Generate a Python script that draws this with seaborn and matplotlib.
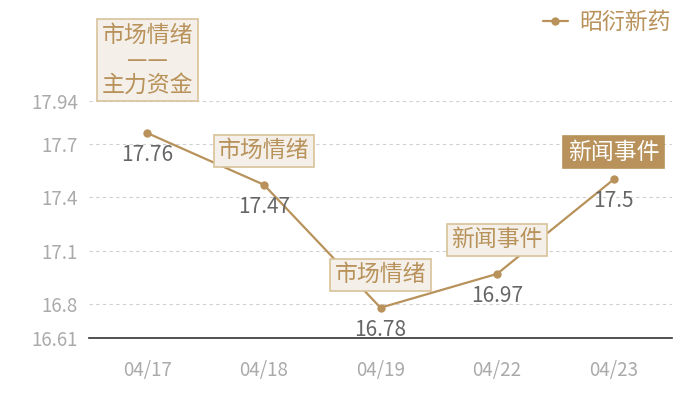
import pandas as pd
import matplotlib
matplotlib.use("Agg")
import matplotlib.pyplot as plt
import seaborn as sns

# data
dates = ["04/17", "04/18", "04/19", "04/22", "04/23"]
prices = [17.76, 17.47, 16.78, 16.97, 17.5]
events = ["市场情绪\n——\n主力资金", "市场情绪", "市场情绪", "新闻事件", "新闻事件"]
series_name = "昭衍新药"
yticks = [16.61, 16.8, 17.1, 17.4, 17.7, 17.94]

gold = "#b8925a"
box_fill = "#f4f0e9"
box_edge = "#d8c299"

sns.set_theme(style="white")
plt.rcParams["font.family"] = ["Noto Sans CJK SC", "DejaVu Sans"]

df = pd.DataFrame({"date": dates, "price": prices, "name": series_name})

fig = plt.figure(figsize=(7, 4), dpi=100)
ax = fig.add_axes([89 / 700, 1 - 338 / 400, (672 - 89) / 700, (338 - 101) / 400])

sns.lineplot(data=df, x="date", y="price", hue="name", palette=[gold],
             marker="o", markersize=6, markeredgewidth=0, linewidth=1.6,
             ax=ax, zorder=3)

ax.set_xlim(-0.5, len(dates) - 0.5)
ax.set_ylim(yticks[0], yticks[-1])
ax.set_yticks(yticks)
ax.set_yticklabels([str(v) for v in yticks])
for v in yticks[1:]:
    ax.axhline(v, color="#d0d0d0", linestyle=(0, (3, 3)), linewidth=0.8, zorder=1)

for s in ["left", "right", "top"]:
    ax.spines[s].set_visible(False)
ax.spines["bottom"].set_color("#333333")
ax.spines["bottom"].set_linewidth(1.2)
ax.tick_params(axis="both", length=0, labelsize=13.5, colors="#aaaaaa")
for lab in ax.get_xticklabels() + ax.get_yticklabels():
    lab.set_fontweight("light")
ax.tick_params(axis="x", pad=16)
ax.tick_params(axis="y", pad=8)
ax.set_xlabel("")
ax.set_ylabel("")

# value labels under the points
for i, p in enumerate(prices):
    ax.annotate(f"{p:g}", (i, p), xytext=(0, -22), textcoords="offset pixels",
                ha="center", va="center", fontsize=15, fontweight="light",
                color="#666666", zorder=5)

# event boxes above the points
box_offsets = [73, 34, 33, 34, 27]
for i, (p, ev) in enumerate(zip(prices, events)):
    filled = i == len(prices) - 1
    ax.annotate(ev, (i, p), xytext=(0, box_offsets[i]), textcoords="offset pixels",
                ha="center", va="center", fontsize=16.5, linespacing=1.1,
                fontweight="light",
                color="white" if filled else gold, annotation_clip=False, zorder=6,
                bbox=dict(boxstyle="square,pad=0.2",
                          fc=gold if filled else box_fill,
                          ec=gold if filled else box_edge, lw=1.2))

leg = ax.legend(loc="upper right", bbox_to_anchor=(680 / 700, 1 - 2 / 400),
                bbox_transform=fig.transFigure, frameon=False,
                prop={"size": 16.5, "weight": "light"},
                handlelength=1.1, handletextpad=0.5, borderaxespad=0)
for t in leg.get_texts():
    t.set_color(gold)

fig.savefig("out.png", dpi=100)
